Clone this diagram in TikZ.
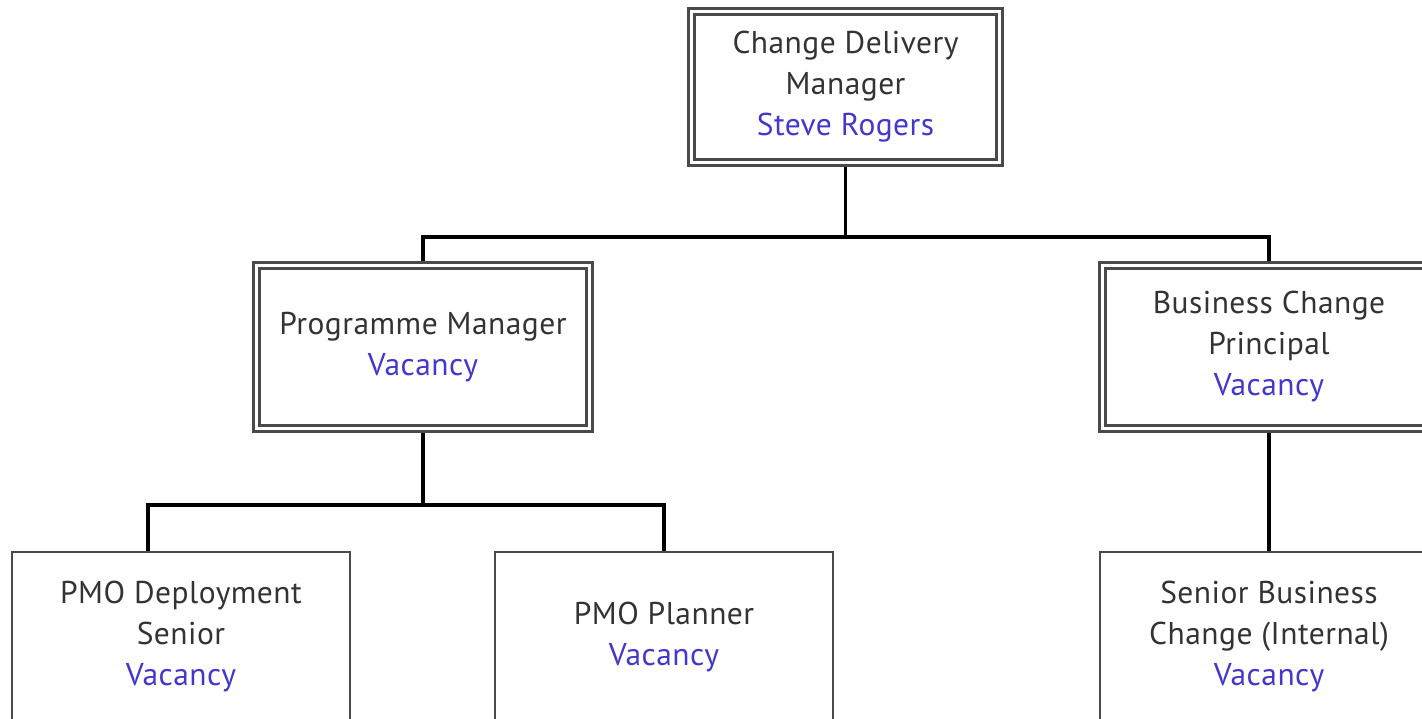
\documentclass[tikz,border=0pt]{standalone}
\usepackage{fontspec}
\setmainfont[LetterSpace=1.5]{PT Sans}
\usetikzlibrary{backgrounds}
\definecolor{txt}{HTML}{333333}
\definecolor{person}{HTML}{4438C8}
\definecolor{frame}{HTML}{4A4A4A}
\tikzset{
  base/.style={fill=white, align=center, text=txt, inner sep=0pt,
    font=\fontsize{31.5}{41}\selectfont},
  dbox/.style={base, draw=frame, line width=2.4pt, double=white, double distance=3.6pt},
  sbox/.style={base, draw=frame, line width=2.6pt, minimum width=338pt, minimum height=170pt},
  conn/.style={draw=black, line width=3.3pt},
}
\newcommand{\who}[1]{\textcolor{person}{#1}}
\begin{document}
\begin{tikzpicture}[x=1pt, y=-1pt]
\useasboundingbox (0,0) rectangle (1422,719);
\node[dbox, minimum width=308pt, minimum height=151pt] (cdm) at (845.5,87) {Change Delivery\\Manager\\\who{Steve Rogers}};
\node[dbox, minimum width=333pt, minimum height=163pt] (pm) at (423,347) {Programme Manager\\\who{Vacancy}};
\node[dbox, minimum width=333pt, minimum height=163pt] (bcp) at (1269,347) {Business Change\\Principal\\\who{Vacancy}};
\node[sbox] (pmod) at (181,637) {PMO Deployment\\Senior\\\who{Vacancy}};
\node[sbox] (pmop) at (664,637) {PMO Planner\\\who{Vacancy}};
\node[sbox] (sbc) at (1269,637) {Senior Business\\Change (Internal)\\\who{Vacancy}};
\coordinate (j1) at (846,237);
\coordinate (j2) at (423,505);
\begin{scope}[on background layer]
\fill[white] (0,0) rectangle (1422,719);
\draw[conn] (cdm.south) -- (cdm.south |- j1);
\draw[conn] (pm.north) |- (j1) -| (bcp.north);
\draw[conn] (pm.south) -- (j2);
\draw[conn] (pmod.north -| 148,0) |- (j2) -| (pmop.north);
\draw[conn] (bcp.south) -- (sbc.north);
\end{scope}
\end{tikzpicture}
\end{document}
